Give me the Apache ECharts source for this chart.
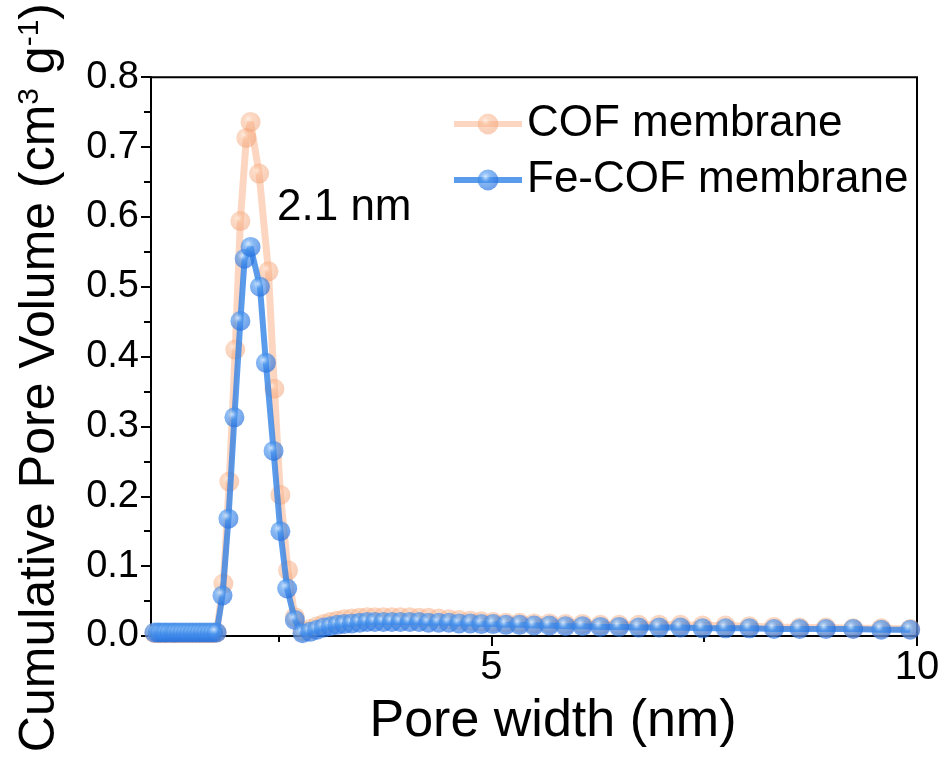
<!DOCTYPE html>
<html>
<head>
<meta charset="utf-8">
<script src="https://cdn.jsdelivr.net/npm/echarts@6/dist/echarts.min.js"></script>
<style>
html,body{margin:0;padding:0;background:#fff;}
#chart{width:944px;height:768px;}
</style>
</head>
<body>
<div id="chart"></div>
<script>
// ---- data ----
const seriesNames = ['COF membrane', 'Fe-COF membrane'];

const cofWidth = [1.04,1.08,1.11,1.15,1.18,1.22,1.26,1.29,1.33,1.37,1.41,1.45,1.49,1.53,1.57,1.61,1.65,1.69,1.73,1.77,
  1.85,1.92,1.99,2.05,2.12,2.17,2.27,2.38,2.45,2.52,2.61,2.69,2.78,
  2.87,2.95,3.03,3.11,3.19,3.27,3.36,3.45,3.54,3.63,3.73,3.83,3.93,4.04,4.15,4.26,4.38,4.50,4.62,4.75,4.88,
  5.02,5.17,5.33,5.50,5.68,5.87,6.07,6.28,6.50,6.73,6.97,7.22,7.48,7.75,8.03,8.32,8.62,8.93,9.25,9.58,9.92];
const cofVolume = [0.004,0.004,0.004,0.004,0.004,0.004,0.004,0.004,0.004,0.004,0.004,0.004,0.004,0.004,0.004,0.004,0.004,0.004,0.004,0.005,
  0.075,0.221,0.410,0.594,0.713,0.736,0.662,0.522,0.354,0.202,0.094,0.027,0.007,
  0.010,0.014,0.017,0.020,0.022,0.024,0.025,0.026,0.027,0.027,0.027,0.027,0.027,0.027,0.026,0.026,0.025,0.024,0.023,0.022,0.021,
  0.020,0.019,0.019,0.018,0.018,0.017,0.017,0.016,0.016,0.016,0.016,0.016,0.015,0.015,0.014,0.013,0.012,0.012,0.011,0.011,0.010];

const feWidth = [1.04,1.08,1.11,1.15,1.18,1.22,1.26,1.29,1.33,1.37,1.41,1.45,1.49,1.53,1.57,1.61,1.65,1.69,1.73,1.77,
  1.84,1.91,1.98,2.05,2.10,2.17,2.28,2.35,2.44,2.52,2.60,2.69,2.78,
  2.87,2.95,3.03,3.11,3.19,3.27,3.36,3.45,3.54,3.63,3.73,3.83,3.93,4.04,4.15,4.26,4.38,4.50,4.62,4.75,4.88,
  5.02,5.17,5.33,5.50,5.68,5.87,6.07,6.28,6.50,6.73,6.97,7.22,7.48,7.75,8.03,8.32,8.62,8.93,9.25,9.58,9.92];
const feVolume = [0.005,0.005,0.005,0.005,0.005,0.005,0.005,0.005,0.005,0.005,0.005,0.005,0.005,0.005,0.005,0.005,0.005,0.005,0.005,0.005,
  0.058,0.168,0.313,0.451,0.540,0.557,0.500,0.391,0.265,0.150,0.068,0.023,0.004,
  0.006,0.009,0.012,0.014,0.016,0.017,0.018,0.019,0.020,0.020,0.020,0.020,0.020,0.020,0.020,0.019,0.019,0.019,0.018,0.018,0.017,
  0.017,0.016,0.016,0.015,0.015,0.014,0.014,0.013,0.013,0.012,0.012,0.012,0.011,0.011,0.011,0.010,0.010,0.010,0.010,0.009,0.009];

const xLabelValues = [5, 10];
const xMinorValues = [2.5, 7.5];
const peakNote = '2.1 nm';

// ---- chart ----
const FONT = 'Liberation Sans, Arial, sans-serif';
const pair = (xs, ys) => xs.map((x, i) => [x, ys[i]]);

function sphere(c0, c1, c2) {
  return {type:'radial', x:0.38, y:0.35, r:0.7,
    colorStops:[{offset:0,color:c0},{offset:0.35,color:c1},{offset:1,color:c2}]};
}

const chart = echarts.init(document.getElementById('chart'), null, {renderer:'canvas'});
const axisCommon = {
  axisLine:{show:true, lineStyle:{color:'#000', width:2}},
  splitLine:{show:false}
};
chart.setOption({
  animation:false,
  backgroundColor:'#fff',
  grid:{left:151, right:27, top:72, bottom:132, show:true, borderColor:'#000', borderWidth:2, backgroundColor:'transparent'},
  legend:{
    orient:'vertical', left:446, top:97, itemWidth:68, itemHeight:26, itemGap:12,
    textStyle:{fontFamily:FONT, fontSize:44, color:'#000'},
    lineStyle:{width:6},
    data:seriesNames
  },
  xAxis:[{
    type:'value', min:1, max:10,
    ...axisCommon,
    axisTick:{show:true, inside:false, length:10, lineStyle:{color:'#000', width:2}, customValues:xLabelValues},
    axisLabel:{show:true, customValues:xLabelValues, fontFamily:FONT, fontSize:40, color:'#000', margin:12},
    name:'Pore width (nm)', nameLocation:'middle', nameGap:60,
    nameTextStyle:{fontFamily:FONT, fontSize:52, color:'#000', padding:[0,0,0,38]}
  },{
    type:'value', min:1, max:10, gridIndex:0, position:'bottom',
    axisLine:{show:false}, splitLine:{show:false},
    axisTick:{show:true, length:6, lineStyle:{color:'#000', width:2}, customValues:xMinorValues},
    axisLabel:{show:false}
  }],
  yAxis:{
    type:'value', min:0, max:0.8, interval:0.1,
    ...axisCommon,
    axisTick:{show:true, inside:false, length:10, lineStyle:{color:'#000', width:2}},
    minorTick:{show:true, splitNumber:2, length:7, lineStyle:{color:'#000', width:2}},
    axisLabel:{fontFamily:FONT, fontSize:38, color:'#000', margin:12, formatter:v => v.toFixed(1)},
    name:'Cumulative Pore Volume (cm{sup|3} g{sup|-1})', nameLocation:'middle', nameGap:86,
    nameTextStyle:{fontFamily:FONT, fontSize:50, color:'#000', padding:[0,42,0,0],
      rich:{sup:{fontFamily:FONT, fontSize:30, color:'#000', verticalAlign:'top', lineHeight:50}}}
  },
  graphic:[{
    type:'text', left:277, top:186,
    style:{text:peakNote, fontFamily:FONT, fontSize:44, fill:'#000'}
  }],
  series:[{
    name:seriesNames[0], type:'line', data:pair(cofWidth, cofVolume),
    symbol:'circle', symbolSize:20, xAxisIndex:0,
    lineStyle:{color:'rgba(250,180,140,0.55)', width:7},
    itemStyle:{color:sphere('rgba(255,238,225,0.8)','rgba(248,178,135,0.5)','rgba(240,155,110,0.5)')},
    z:2
  },{
    name:seriesNames[1], type:'line', data:pair(feWidth, feVolume),
    symbol:'circle', symbolSize:20, xAxisIndex:0,
    lineStyle:{color:'rgba(50,130,230,0.8)', width:6},
    itemStyle:{color:sphere('rgba(215,235,255,0.9)','rgba(75,150,238,0.65)','rgba(30,105,220,0.65)')},
    z:3
  }]
});
</script>
</body>
</html>
